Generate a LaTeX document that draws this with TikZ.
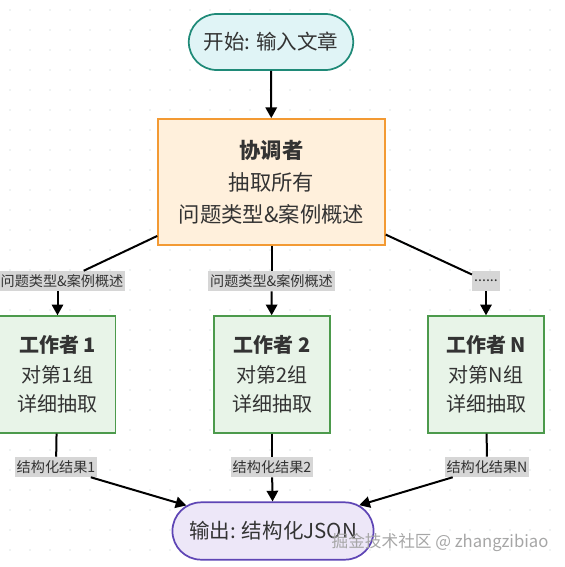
\documentclass[tikz,border=0pt]{standalone}
\usepackage{fontspec}
\setmainfont{Noto Sans CJK SC}
\usepackage{tikz}
\usetikzlibrary{arrows.meta,positioning,shapes.misc}
\definecolor{StartFill}{RGB}{224,244,246}
\definecolor{StartLine}{RGB}{31,138,120}
\definecolor{CoordFill}{RGB}{255,240,220}
\definecolor{CoordLine}{RGB}{243,154,51}
\definecolor{WorkFill}{RGB}{232,244,232}
\definecolor{WorkLine}{RGB}{76,154,76}
\definecolor{OutFill}{RGB}{237,231,248}
\definecolor{OutLine}{RGB}{94,69,181}
\definecolor{TagFill}{RGB}{214,214,214}
\definecolor{InkGray}{RGB}{51,51,51}
\definecolor{GridGray}{RGB}{222,230,230}

\begin{document}
\begin{tikzpicture}[>={Triangle[length=8pt,width=8.5pt]},x=0.75pt,y=-0.75pt,
  pill/.style={draw,rounded rectangle,line width=1.3pt,text=InkGray,font=\fontsize{15.4}{18}\selectfont},
  box/.style={draw,rectangle,line width=1.3pt,text=InkGray,align=center},
  worker/.style={box,fill=WorkFill,draw=WorkLine,minimum width=87pt,minimum height=87.5pt,font=\fontsize{15}{22}\selectfont},
  tag/.style={fill=TagFill,text=InkGray,inner sep=1.5pt,minimum height=15pt,font=\fontsize{10.6}{12}\selectfont},
  link/.style={line width=1.5pt,black}]
\useasboundingbox (0,0) rectangle (564,567);
% background grid
\foreach \gx in {10,30,...,560}
  \foreach \gy in {10,30,...,560}
    \fill[GridGray] (\gx,\gy) circle (0.6pt);

\node[pill,fill=StartFill,draw=StartLine,minimum width=130pt,minimum height=42pt] (start) at (271,42) {开始: 输入文章};
\node[box,fill=CoordFill,draw=CoordLine,minimum width=170pt,minimum height=94.5pt,font=\fontsize{16}{24}\selectfont] (coord) at (271.5,182) {\textbf{协调者}\\抽取所有\\问题类型\&案例概述};

\node[tag] (tag1) at (62,281) {问题类型\&案例概述};
\node[tag] (tag2) at (271.5,281) {问题类型\&案例概述};
\node[tag,minimum width=18pt] (tagN) at (486,281) {......};

\node[worker] (w1) at (57.5,374.5) {\textbf{工作者 1}\\对第1组\\详细抽取};
\node[worker] (w2) at (272,374.5) {\textbf{工作者 2}\\对第2组\\详细抽取};
\node[worker] (wN) at (486,374.5) {\textbf{工作者 N}\\对第N组\\详细抽取};

\node[tag] (res1) at (56,467) {结构化结果1};
\node[tag] (res2) at (272,467) {结构化结果2};
\node[tag] (resN) at (487,467) {结构化结果N};

\node[pill,fill=OutFill,draw=OutLine,minimum width=157.5pt,minimum height=43pt] (out) at (273,531) {输出: 结构化JSON};

\draw[link,->] (start) -- (coord);
\draw[link] (coord) -- (tag1);
\draw[link] (coord) -- (tag2);
\draw[link] (coord) -- (tagN);
\draw[link,->] (tag1.south -| w1) -- (w1);
\draw[link,->] (tag2) -- (w2);
\draw[link,->] (tagN) -- (wN);
\draw[link] (w1) -- (res1);
\draw[link] (w2) -- (res2);
\draw[link] (wN) -- (resN);
\draw[link,->] (res1) -- (out);
\draw[link,->] (res2) -- (out);
\draw[link,->] (resN) -- (out);

% watermark
\node[text=gray!70,font=\fontsize{12.5}{14}\selectfont] (mark) at (440,543) {掘金技术社区 @ zhangzibiao};
\end{tikzpicture}
\end{document}
